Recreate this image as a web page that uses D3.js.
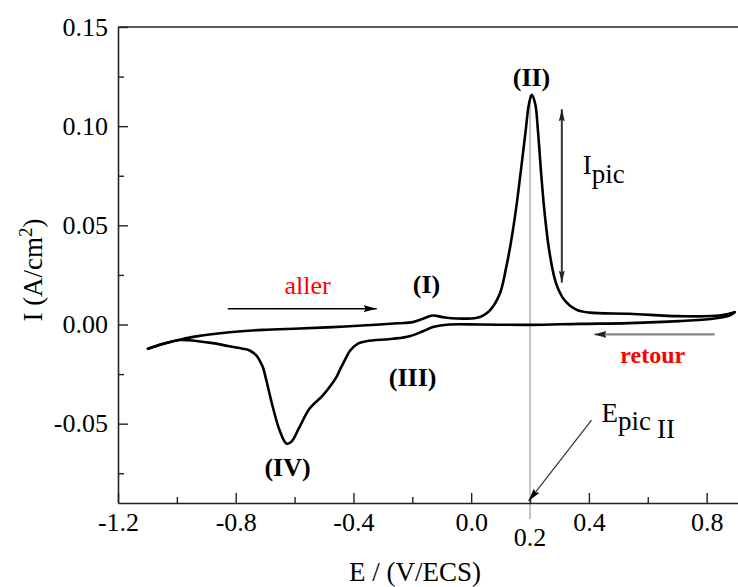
<!DOCTYPE html>
<html>
<head>
<meta charset="utf-8">
<script src="https://cdn.jsdelivr.net/npm/d3@7"></script>
<style>
  body { margin: 0; background: #fff; }
  svg { display: block; }
  text { font-family: "Liberation Serif", "Times New Roman", serif; fill: #000; }
</style>
</head>
<body>
<svg id="chart" width="738" height="587"></svg>
<script>
// Cyclic voltammogram: forward scan (aller) and reverse scan (retour)
const allerE = [-1.098, -1.047, -0.991, -0.934, -0.821, -0.708, -0.583, -0.470, -0.356, -0.250,
                -0.198, -0.164, -0.130, -0.096, -0.050, 0.020, 0.040, 0.063, 0.097, 0.119,
                0.136, 0.153, 0.170, 0.185, 0.196, 0.206, 0.218, 0.227, 0.238, 0.250,
                0.267, 0.289, 0.318, 0.357, 0.402, 0.538, 0.708, 0.844, 0.895];
const allerI = [-0.0122, -0.0097, -0.0077, -0.0060, -0.0039, -0.0027, -0.0020, -0.0013, -0.0004, 0.0006,
                0.0012, 0.0029, 0.0045, 0.0037, 0.0030, 0.0034, 0.0045, 0.0070, 0.0154, 0.0288,
                0.0422, 0.0589, 0.0790, 0.0975, 0.1109, 0.1158, 0.1109, 0.0975, 0.0757, 0.0556,
                0.0355, 0.0205, 0.0121, 0.0075, 0.0060, 0.0054, 0.0042, 0.0045, 0.0062];

const retourE = [0.895, 0.878, 0.821, 0.708, 0.538, 0.368, 0.200, 0.029, -0.073, -0.130,
                 -0.164, -0.209, -0.266, -0.356, -0.385, -0.413, -0.424, -0.447, -0.458, -0.504,
                 -0.549, -0.583, -0.611, -0.628, -0.651, -0.674, -0.696, -0.708, -0.719, -0.730,
                 -0.753, -0.776, -0.821, -0.878, -0.934, -0.991, -1.047, -1.098];
const retourI = [0.0062, 0.0045, 0.0029, 0.0017, 0.0007, 0.0003, -0.0002, 0.0000, 0.0000, -0.0013,
                 -0.0034, -0.0059, -0.0072, -0.0084, -0.0096, -0.0135, -0.0164, -0.0231, -0.0265, -0.0357,
                 -0.0424, -0.0516, -0.0591, -0.0600, -0.0533, -0.0416, -0.0281, -0.0214, -0.0181, -0.0156,
                 -0.0131, -0.0122, -0.0110, -0.0094, -0.0083, -0.0078, -0.0098, -0.0122];

// Axis ticks
const xMajor = [-1.2, -0.8, -0.4, 0.0, 0.4, 0.8];
const xMinor = [-1.0, -0.6, -0.2, 0.2, 0.6];
const yMajor = [-0.05, 0.00, 0.05, 0.10, 0.15];
const yMinor = [-0.075, -0.025, 0.025, 0.075, 0.125];
const ePeak = 0.2;        // potential of peak II
const iPeakTop = 0.1158;  // current at the top of peak II

const svg = d3.select("#chart");
const x = d3.scaleLinear().domain([-1.2, 0.91]).range([118, 739]);
const y = d3.scaleLinear().domain([-0.09, 0.15]).range([503, 27]);

const fmt = (f) => (v) => d3.format(f)(v).replace("\u2212", "-");

// Markers
const defs = svg.append("defs");
function marker(id, color, w, h) {
  defs.append("marker")
    .attr("id", id)
    .attr("viewBox", `0 0 ${w} ${h}`)
    .attr("refX", w).attr("refY", h / 2)
    .attr("markerWidth", w).attr("markerHeight", h)
    .attr("markerUnits", "userSpaceOnUse")
    .attr("orient", "auto-start-reverse")
    .append("path")
    .attr("d", `M0,0L${w},${h / 2}L0,${h}L${w * 0.15},${h / 2}Z`)
    .attr("fill", color);
}
marker("head-black", "#000", 13, 7);
marker("head-dark", "#222", 12, 7);
marker("head-narrow", "#222", 12, 6);

// Reference line at the peak potential
svg.append("line")
  .attr("x1", x(ePeak)).attr("x2", x(ePeak))
  .attr("y1", y(iPeakTop)).attr("y2", y(-0.09) + 16)
  .attr("stroke", "#8a8a8a").attr("stroke-width", 1);

// Frame (top and right edges)
svg.append("path")
  .attr("d", `M${x(-1.2)},${y(0.15)}H${x(0.91)}V${y(-0.09)}`)
  .attr("fill", "none").attr("stroke", "#222").attr("stroke-width", 1.6);

// Axes
const gx = svg.append("g").attr("transform", `translate(0,${y(-0.09)})`);
gx.call(d3.axisBottom(x).tickValues(xMajor).tickFormat(fmt(".1f"))
  .tickSize(-10).tickSizeOuter(0).tickPadding(9.5));
const gxm = svg.append("g").attr("transform", `translate(0,${y(-0.09)})`);
gxm.call(d3.axisBottom(x).tickValues(xMinor).tickFormat("").tickSize(-6).tickSizeOuter(0));

const gy = svg.append("g").attr("transform", `translate(${x(-1.2)},0)`);
gy.call(d3.axisLeft(y).tickValues(yMajor).tickFormat(fmt(".2f"))
  .tickSize(-10).tickSizeOuter(0).tickPadding(10));
const gym = svg.append("g").attr("transform", `translate(${x(-1.2)},0)`);
gym.call(d3.axisLeft(y).tickValues(yMinor).tickFormat("").tickSize(-6).tickSizeOuter(0));

svg.selectAll(".domain").attr("stroke", "#222").attr("stroke-width", 1.6);
svg.selectAll(".tick line").attr("stroke", "#222").attr("stroke-width", 1.4);
svg.selectAll(".tick text")
  .attr("font-family", "Liberation Serif, serif")
  .attr("font-size", 26).attr("fill", "#000");
gxm.select(".domain").remove();
gym.select(".domain").remove();

// Extra tick label at the peak potential, set lower than the others
svg.append("text")
  .attr("x", x(ePeak)).attr("y", 546)
  .attr("text-anchor", "middle").attr("font-size", 26)
  .text("0.2");

// Axis titles
svg.append("text")
  .attr("x", 415).attr("y", 581)
  .attr("text-anchor", "middle").attr("font-size", 27)
  .text("E / (V/ECS)");

const yt = svg.append("text")
  .attr("transform", `translate(42,270) rotate(-90)`)
  .attr("text-anchor", "middle").attr("font-size", 27);
yt.append("tspan").text("I (A/cm");
yt.append("tspan").attr("font-size", 19).attr("dy", -10).text("2");
yt.append("tspan").attr("dy", 10).text(")");

// Curves
const line = d3.line()
  .x(d => x(d[0])).y(d => y(d[1]))
  .curve(d3.curveCatmullRom.alpha(0.5));
const aller = allerE.map((e, i) => [e, allerI[i]]);
const retour = retourE.map((e, i) => [e, retourI[i]]);
[aller, retour].forEach(pts => {
  svg.append("path")
    .attr("d", line(pts))
    .attr("fill", "none")
    .attr("stroke", "#000")
    .attr("stroke-width", 2.6)
    .attr("stroke-linejoin", "round")
    .attr("stroke-linecap", "round");
});

// Scan direction arrows
svg.append("line")
  .attr("x1", x(-0.827)).attr("x2", x(-0.321))
  .attr("y1", y(0.008)).attr("y2", y(0.008))
  .attr("stroke", "#000").attr("stroke-width", 1.5)
  .attr("marker-end", "url(#head-black)");
svg.append("text")
  .attr("x", x(-0.556)).attr("y", y(0.0156))
  .attr("text-anchor", "middle").attr("font-size", 26)
  .style("fill", "#ff0000").text("aller");

svg.append("line")
  .attr("x1", x(0.827)).attr("x2", x(0.419))
  .attr("y1", y(-0.005)).attr("y2", y(-0.005))
  .attr("stroke", "#858585").attr("stroke-width", 2.4)
  .attr("marker-end", "url(#head-dark)");
svg.append("text")
  .attr("x", x(0.617)).attr("y", y(-0.0196))
  .attr("text-anchor", "middle").attr("font-size", 24).attr("font-weight", "bold")
  .style("fill", "#ff0000").text("retour");

// Peak height arrow
svg.append("line")
  .attr("x1", x(0.308)).attr("x2", x(0.308))
  .attr("y1", y(0.1085)).attr("y2", y(0.0211))
  .attr("stroke", "#333").attr("stroke-width", 2)
  .attr("marker-start", "url(#head-narrow)")
  .attr("marker-end", "url(#head-narrow)");
const ip = svg.append("text")
  .attr("x", x(0.379)).attr("y", y(0.0759)).attr("font-size", 27);
ip.append("tspan").text("I");
ip.append("tspan").attr("dy", 9).text("pic");

// Peak potential arrow
svg.append("line")
  .attr("x1", x(0.409)).attr("y1", y(-0.0482))
  .attr("x2", x(0.195)).attr("y2", y(-0.089))
  .attr("stroke", "#333").attr("stroke-width", 1.2)
  .attr("marker-end", "url(#head-black)");
const ep = svg.append("text")
  .attr("x", x(0.443)).attr("y", y(-0.0492)).attr("font-size", 27);
ep.append("tspan").text("E");
ep.append("tspan").attr("dy", 8).text("pic");
ep.append("tspan").attr("dy", 8).attr("dx", 6).text("II");

// Peak labels
const peaks = [
  { label: "(II)", e: 0.205, i: 0.1201 },
  { label: "(I)", e: -0.152, i: 0.0161 },
  { label: "(III)", e: -0.199, i: -0.0312 },
  { label: "(IV)", e: -0.624, i: -0.0764 }
];
svg.selectAll(".peak").data(peaks).enter().append("text")
  .attr("class", "peak")
  .attr("x", d => x(d.e)).attr("y", d => y(d.i))
  .attr("text-anchor", "middle")
  .attr("font-size", 26).attr("font-weight", "bold")
  .text(d => d.label);
</script>
</body>
</html>
